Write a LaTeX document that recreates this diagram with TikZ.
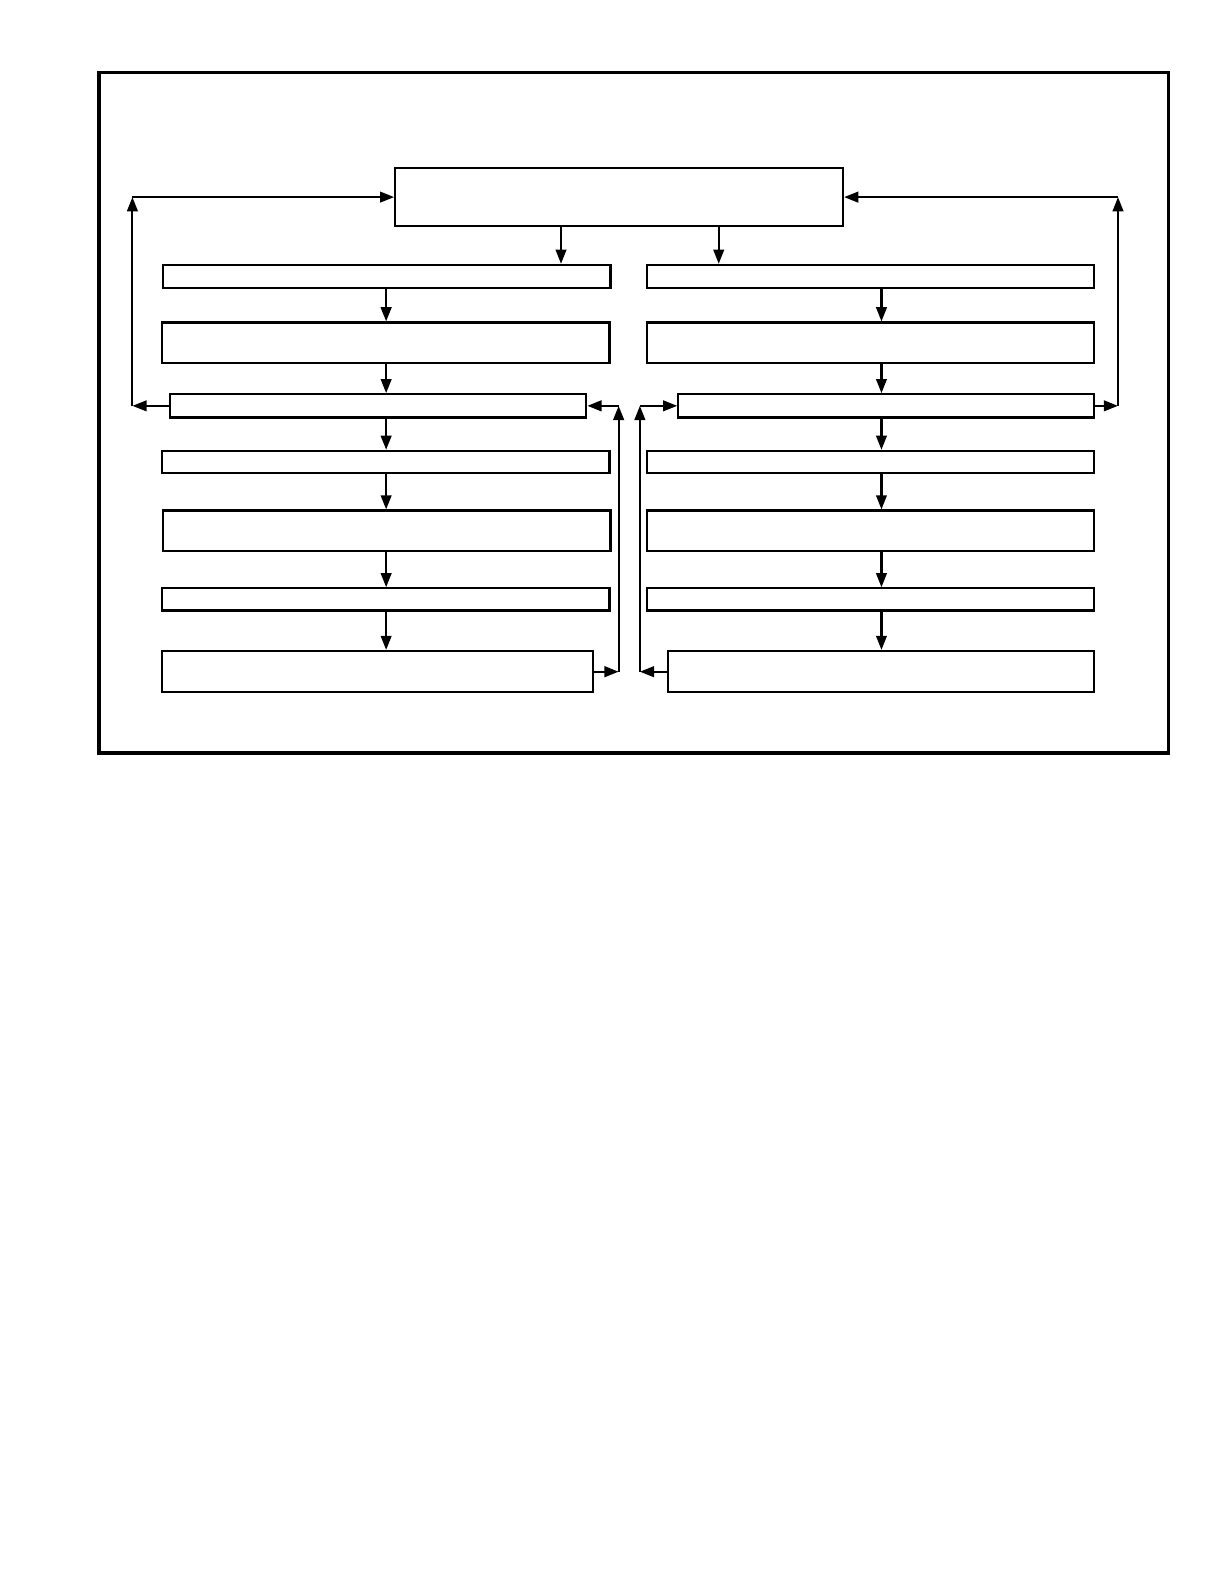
\documentclass[tikz,border=0pt]{standalone}
\usepackage{tikz}
\usetikzlibrary{arrows.meta,shapes}

\begin{document}
\begin{tikzpicture}[>={Triangle[length=0.28cm,width=0.21cm]},line width=1.2pt]
\useasboundingbox (0,0) rectangle (24.24,-31.36);
\draw[line width=1.8pt] (1.96,-1.44) rectangle (23.12,-14.9);
\tikzstyle{every node}=[rectangle,draw,line width=1.2pt,inner sep=0pt]
%top box
\node[minimum width=8.86cm,minimum height=1.16cm] (t) at (12.25,-3.9) {};
%left column
\node[minimum width=8.86cm,minimum height=0.46cm] (l1) at (7.65,-5.47) {};
\node[minimum width=8.86cm,minimum height=0.80cm] (l2) at (7.63,-6.78) {};
\node[minimum width=8.24cm,minimum height=0.46cm] (l3) at (7.48,-8.03) {};
\node[minimum width=8.86cm,minimum height=0.44cm] (l4) at (7.63,-9.14) {};
\node[minimum width=8.86cm,minimum height=0.80cm] (l5) at (7.65,-10.5) {};
\node[minimum width=8.86cm,minimum height=0.44cm] (l6) at (7.63,-11.86) {};
\node[minimum width=8.54cm,minimum height=0.82cm] (l7) at (7.47,-13.29) {};
%right column
\node[minimum width=8.84cm,minimum height=0.46cm] (r1) at (17.22,-5.47) {};
\node[minimum width=8.84cm,minimum height=0.80cm] (r2) at (17.22,-6.78) {};
\node[minimum width=8.22cm,minimum height=0.46cm] (r3) at (17.53,-8.03) {};
\node[minimum width=8.84cm,minimum height=0.44cm] (r4) at (17.22,-9.14) {};
\node[minimum width=8.84cm,minimum height=0.80cm] (r5) at (17.22,-10.5) {};
\node[minimum width=8.84cm,minimum height=0.44cm] (r6) at (17.22,-11.86) {};
\node[minimum width=8.42cm,minimum height=0.82cm] (r7) at (17.43,-13.29) {};
%columns of the arrows
\coordinate (cl) at (7.64,0);
\coordinate (cr) at (17.44,0);
\coordinate (tl) at (11.1,0);
\coordinate (tr) at (14.22,0);
\coordinate (fl) at (2.62,-8.03);
\coordinate (fr) at (22.12,-8.03);
\coordinate (ml) at (12.24,-13.29);
\coordinate (mr) at (12.66,-13.29);
\draw [->] (t.south -| tl) -- (tl |- l1.north);
\draw [->] (t.south -| tr) -- (tr |- r1.north);
\foreach \from/\to in {l1/l2,l2/l3,l3/l4,l4/l5,l5/l6,l6/l7}
\draw [->] (\from.south -| cl) -- (cl |- \to.north);
\foreach \from/\to in {r1/r2,r2/r3,r3/r4,r4/r5,r5/r6,r6/r7}
\draw [->] (\from.south -| cr) -- (cr |- \to.north);
%feedback, outer
\draw [->] (l3.west) -- (fl);
\draw [->] (fl) -- (fl |- t.west);
\draw [->] (fl |- t.west) -- (t.west);
\draw [->] (r3.east) -- (fr);
\draw [->] (fr) -- (fr |- t.east);
\draw [->] (fr |- t.east) -- (t.east);
%feedback, middle
\draw [->] (l7.east) -- (ml);
\draw [->] (ml) -- (ml |- l3.east);
\draw [->] (ml |- l3.east) -- (l3.east);
\draw [->] (r7.west) -- (mr);
\draw [->] (mr) -- (mr |- r3.west);
\draw [->] (mr |- r3.west) -- (r3.west);
\end{tikzpicture}
\end{document}
